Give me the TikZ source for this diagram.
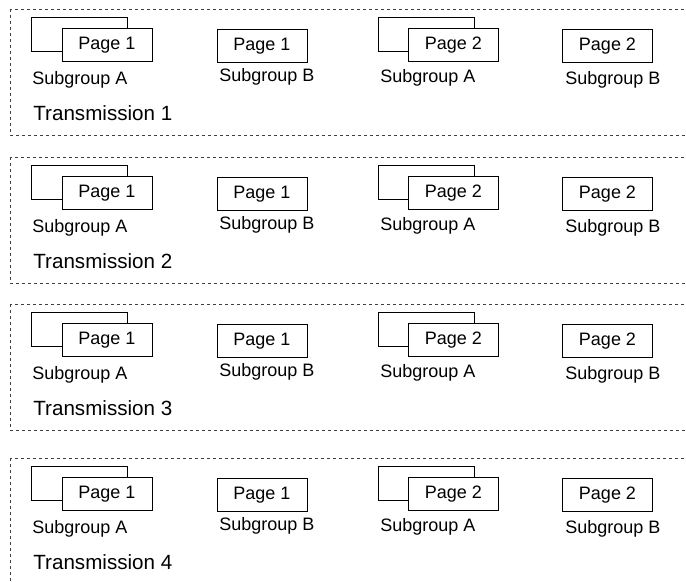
\documentclass[tikz,border=0pt]{standalone}
\usepackage{fontspec}
\setmainfont{Liberation Sans}
\usetikzlibrary{positioning}

\begin{document}
\begin{tikzpicture}[x=0.5pt, y=-0.5pt,
    pagebox/.style={draw, fill=white, line width=0.5pt, minimum width=45pt, minimum height=16.5pt, inner sep=0pt, font=\fontsize{9}{10}\selectfont},
    backbox/.style={draw, line width=0.5pt, minimum width=48pt, minimum height=17pt, inner sep=0pt},
    grouplabel/.style={inner sep=0pt, anchor=base west, font=\fontsize{9}{10}\selectfont},
    translabel/.style={inner sep=0pt, anchor=base west, font=\fontsize{10.3}{12}\selectfont},
    panel/.style={draw=black!75, dash pattern=on 1.5pt off 1.5pt, line width=0.4pt}]
  \useasboundingbox (0,0) rectangle (686,582);
  \clip (0,0) rectangle (686,582);
  \foreach \t/\y in {1/9, 2/157, 3/304, 4/458} {
    \draw[panel] (10,\y) rectangle (692,\y+126);
    % page 1
    \node[backbox] (ab\t) at (79,\y+26) {};
    \node[pagebox] (af\t) at (107,\y+36.5) {Page 1};
    \node[grouplabel] (al\t) at (32,\y+76) {Subgroup A};
    \node[pagebox] (bf\t) at (262,\y+37) {Page 1};
    \node[grouplabel] (bl\t) at (219,\y+73) {Subgroup B};
    % page 2
    \node[backbox] (cb\t) at (426,\y+26) {};
    \node[pagebox] (cf\t) at (453.5,\y+36.5) {Page 2};
    \node[grouplabel] (cl\t) at (380,\y+74) {Subgroup A};
    \node[pagebox] (df\t) at (607.5,\y+37) {Page 2};
    \node[grouplabel] (dl\t) at (565,\y+76) {Subgroup B};
    \node[translabel] (tr\t) at (33,\y+112) {Transmission \t};
  }
\end{tikzpicture}
\end{document}
